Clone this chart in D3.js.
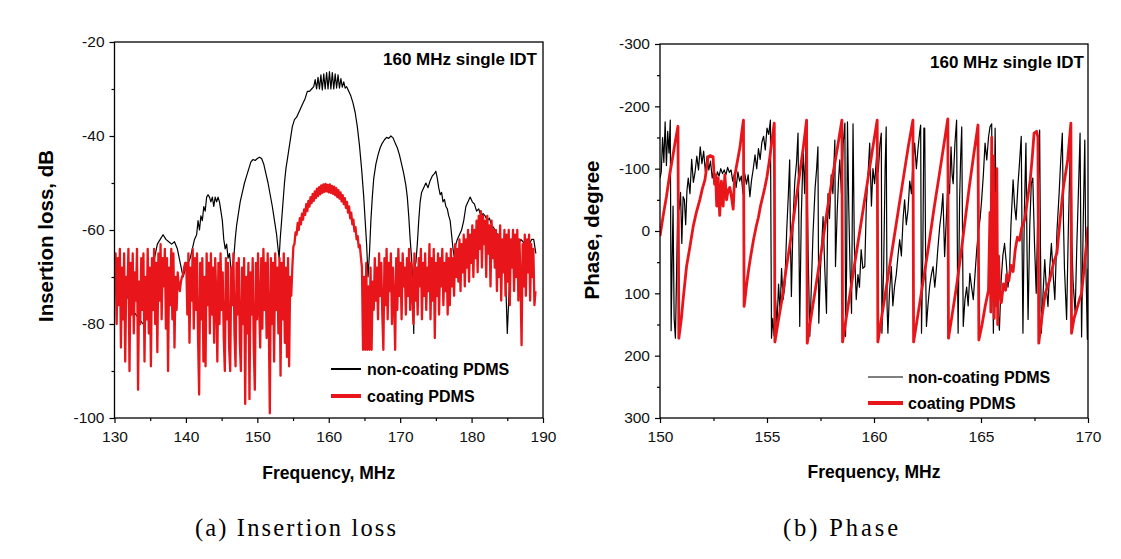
<!DOCTYPE html>
<html><head><meta charset="utf-8">
<script src="https://cdn.jsdelivr.net/npm/d3@7"></script>
<style>body{margin:0;background:#fff}svg{display:block}</style>
</head><body>
<svg id="c" width="1121" height="559"></svg>
<script>
// ---------------- DATA ----------------
// (a) insertion loss
const ilXTicks = [130,140,150,160,170,180,190];
const ilXMinor = [135,145,155,165,175,185];
const ilYTicks = [-20,-40,-60,-80,-100];
const ilYMinor = [-30,-50,-70,-90];
const ilBlack = [[130.0,-66],[130.4,-68],[130.8,-70],[131.2,-72],[131.6,-73],[132.0,-75],[132.5,-77],[133.0,-78],[133.5,-79],[134.0,-80],[134.4,-79],[134.8,-76],[135.2,-71],[135.6,-66],[136.0,-63],[136.4,-62],[136.8,-61],[137.2,-62],[137.6,-62.5],[138.0,-63],[138.4,-62.5],[138.8,-64],[139.2,-67],[139.6,-70],[140.0,-68],[140.3,-67],[140.6,-66],[140.9,-64],[141.2,-62],[141.5,-61],[141.7,-58],[141.9,-60],[142.1,-57],[142.3,-58],[142.5,-55],[142.7,-56],[142.9,-53],[143.1,-52.5],[143.3,-53],[143.5,-54],[143.7,-53],[143.9,-55],[144.1,-53],[144.3,-54],[144.5,-53],[144.7,-54],[144.9,-56],[145.1,-58],[145.3,-62],[145.5,-64],[145.7,-63],[145.9,-66],[146.1,-65],[146.3,-68],[146.5,-69],[146.7,-66],[146.9,-62],[147.1,-59],[147.3,-57],[147.6,-54],[147.9,-52],[148.2,-50],[148.5,-48.5],[148.8,-47],[149.1,-45.5],[149.4,-45],[149.7,-45.2],[150.0,-44.8],[150.3,-44.5],[150.6,-44.8],[150.9,-46],[151.2,-48],[151.5,-50],[151.8,-52.5],[152.1,-55],[152.4,-58],[152.7,-61],[152.9,-64],[153.05,-66],[153.2,-62],[153.4,-58],[153.6,-54],[153.8,-50],[154.0,-47],[154.3,-44],[154.6,-41],[154.9,-38],[155.2,-36.5],[155.5,-36],[155.8,-35],[156.1,-34],[156.4,-33],[156.7,-32],[157.0,-30.5],[157.3,-30.5],[157.6,-30],[157.9,-29.5],[158.1,-28],[158.3,-30],[158.5,-27.5],[158.7,-30],[158.9,-27],[159.1,-30.2],[159.3,-26.8],[159.5,-30],[159.7,-26.5],[159.9,-30],[160.1,-26.3],[160.3,-30],[160.5,-26.5],[160.7,-30],[160.9,-26.8],[161.1,-29.8],[161.3,-27],[161.5,-29.8],[161.7,-27.8],[161.9,-29.6],[162.1,-28.5],[162.3,-29.8],[162.5,-29.5],[162.8,-30.5],[163.1,-31.5],[163.4,-33],[163.7,-35],[164.0,-38],[164.3,-42],[164.6,-47],[164.9,-53],[165.1,-58],[165.3,-63],[165.5,-70],[165.7,-65],[165.9,-58],[166.1,-53],[166.3,-49],[166.6,-46],[166.9,-44],[167.2,-42.5],[167.5,-41.5],[167.8,-40.8],[168.1,-40.3],[168.4,-40.5],[168.7,-40],[169.0,-40.4],[169.3,-41.5],[169.6,-42.5],[169.9,-44],[170.2,-46],[170.5,-48],[170.8,-50.5],[171.0,-53],[171.2,-57],[171.4,-62],[171.6,-66],[171.8,-72],[171.9,-82],[172.0,-68],[172.2,-67],[172.4,-63],[172.6,-58],[172.8,-54],[173.0,-52],[173.3,-51],[173.6,-50],[173.9,-51],[174.2,-49.5],[174.5,-48.5],[174.8,-48],[175.0,-47.5],[175.2,-49],[175.4,-51],[175.6,-52.5],[175.8,-52],[176.0,-54],[176.2,-53.5],[176.4,-55],[176.6,-55.5],[176.8,-57],[177.0,-58],[177.2,-61],[177.4,-64],[177.6,-66],[177.8,-63],[178.0,-62],[178.3,-61],[178.6,-60],[178.9,-58],[179.2,-55],[179.5,-54],[179.8,-53],[180.1,-54],[180.4,-54.5],[180.7,-56],[181.0,-55.5],[181.3,-57],[181.6,-56.5],[181.9,-57],[182.2,-58],[182.5,-57.5],[182.8,-59],[183.1,-59.5],[183.4,-60.5],[183.7,-61],[184.0,-63],[184.3,-64],[184.6,-66],[184.8,-72],[185.0,-82],[185.2,-75],[185.4,-68],[185.7,-66],[186.0,-65],[186.3,-64],[186.6,-63],[186.9,-62],[187.2,-62.5],[187.5,-63],[187.8,-64],[188.1,-63],[188.4,-62],[188.7,-62],[189.0,-65]];
// coating PDMS, sampled every 0.15 MHz, in segments
const ilRedStep = 0.15;
const ilRedA0 = 130.00, ilRedA = [-72,-65,-80,-66,-76,-64,-85,-68,-79,-65,-88,-70,-74,-64,-90,-67,-78,-65,-82,-69,-75,-64,-94,-71,-80,-66,-77,-65,-88,-70,-79,-64,-82,-68,-89,-66,-77,-64,-80,-67,-86,-65,-75,-63,-79,-66,-72,-64,-81,-66,-90,-68,-76,-64,-79,-65,-85,-70,-77,-69];
const ilRedB0 = 139.00, ilRedB = [-72,-73,-71,-70,-69.5,-68,-67];
const ilRedC0 = 140.05, ilRedC = [-67,-78,-65,-84,-68,-75,-64,-81,-66,-77,-65,-83,-95,-67,-79,-66,-88,-70,-89,-65,-76,-67,-82,-65,-78,-68,-84,-66,-74,-88,-67,-80,-65,-77,-69,-83,-90,-66,-79,-67,-85,-90,-68,-76,-65,-82,-89,-67,-78,-66,-84,-90,-68,-80,-66,-97,-70,-82,-67,-96,-69,-78,-66,-85,-94,-67,-79,-65,-76,-85,-66,-81,-64,-77,-67,-83,-65,-79,-99,-66,-80,-67,-88,-65,-77,-68,-82,-66,-91,-67,-79,-65,-84,-68,-87,-66,-89,-70,-74];
const ilRedD0 = 154.90, ilRedD = [-68,-63.5,-63,-60.5,-61,-58.5,-60,-57.5,-58.8,-56.5,-57.8,-55.6,-56.8,-54.5,-56,-53.8,-55,-53,-54.3,-52.3,-53.8,-51.8,-53.2,-51.2,-52.8,-50.9,-52.4,-50.5,-52.1,-50.3,-51.9,-50.2,-51.8,-50.4,-52,-50.3,-52.1,-50.6,-52.3,-50.8,-52.6,-51.1,-53,-51.5,-53.3,-52,-53.9,-52.6,-54.5,-53.2,-55.3,-54,-56.3,-55,-57.5,-56.3,-58.8,-57.8,-60.3,-59.4,-62,-61.3,-63.7,-63.2,-65.8,-68];
const ilRedE0 = 164.80, ilRedE = [-85.5,-70,-85.5,-67,-85.5,-72,-85.5,-68,-85.5,-71,-77];
const ilRedF0 = 166.45, ilRedF = [-66,-75,-68,-79,-65,-74,-67,-78,-85.5,-66,-76,-64,-79,-67,-73,-65,-80,-68,-75,-85.5,-66,-77,-64,-74,-67,-79,-65,-72,-68,-78,-66,-74,-64,-77,-67,-73,-80,-65,-75,-68,-78,-66,-72,-64,-79,-67,-74,-65,-77,-68,-73,-63,-79,-66,-75,-64,-83,-67,-74,-65,-78,-66,-72,-64,-76,-67,-73,-65,-78,-66,-76,-64,-72,-66,-74,-63,-70];
const ilRedG0 = 178.00, ilRedG = [-64,-71,-62,-73,-63,-69,-61,-72,-62,-68,-60,-71,-61,-67,-59,-70,-60,-66,-58,-69,-57,-64,-56,-68,-57,-63,-58,-70,-57,-65,-59,-72,-58,-66,-60];
const ilRedH0 = 183.25, ilRedH = [-68,-60,-73,-61,-70,-59,-75,-62,-69,-60,-74,-61,-71,-60,-76,-62,-68,-60,-73,-61,-70,-60,-75,-62,-71,-84.5,-63,-72,-61,-74,-62,-69,-61,-75,-63,-70,-64,-76,-73];

// (b) phase
const phXTicks = [150,155,160,165,170];
const phXMinor = [152.5,157.5,162.5,167.5];
const phYTicks = [-300,-200,-100,0,100,200,300];
const phYMinor = [-250,-150,-50,50,150,250];
const phRed = [[150.00,8],[150.15,-25],[150.30,-55],[150.45,-90],[150.60,-120],[150.72,-145],[150.84,-168],[150.88,172],[151.00,140],[151.08,110],[151.24,57],[151.40,25],[151.55,-7],[151.70,-30],[151.86,-50],[151.98,-68],[152.10,-82],[152.25,-119],[152.35,-121],[152.48,-119],[152.55,-75],[152.60,-90],[152.65,-40],[152.72,-85],[152.79,-25],[152.87,-80],[152.95,-40],[153.03,-90],[153.11,-50],[153.18,-65],[153.26,-70],[153.34,-55],[153.42,-35],[153.49,-88],[153.57,-103],[153.66,-120],[153.74,-135],[153.82,-158],[153.90,-178],[153.93,121],[153.97,110],[154.05,85],[154.15,60],[154.25,38],[154.37,14],[154.50,-8],[154.60,-22],[154.69,-39],[154.80,-55],[154.90,-70],[155.00,-87],[155.12,-115],[155.23,-146],[155.34,-173],[155.37,178],[155.50,150],[155.70,110],[155.90,60],[156.10,15],[156.30,-35],[156.50,-85],[156.70,-135],[156.85,-178],[156.88,180],[157.05,140],[157.30,85],[157.55,30],[157.80,-30],[158.05,-85],[158.30,-135],[158.50,-178],[158.53,178],[158.70,140],[158.95,85],[159.20,30],[159.45,-25],[159.70,-80],[159.95,-135],[160.15,-178],[160.18,178],[160.35,140],[160.60,85],[160.85,30],[161.10,-25],[161.35,-80],[161.60,-135],[161.82,-178],[161.85,178],[162.05,135],[162.30,80],[162.55,25],[162.80,-35],[163.05,-90],[163.25,-135],[163.45,-180],[163.48,172],[163.65,135],[163.85,90],[164.05,40],[164.25,-15],[164.45,-70],[164.65,-120],[164.86,-170],[164.90,175],[165.05,150],[165.20,120],[165.35,95],[165.42,-30],[165.46,130],[165.50,-150],[165.54,110],[165.58,-120],[165.62,140],[165.66,-60],[165.70,120],[165.74,-100],[165.78,150],[165.82,40],[165.87,95],[165.95,115],[166.05,85],[166.15,95],[166.20,70],[166.30,80],[166.40,55],[166.50,65],[166.60,30],[166.70,10],[166.80,15],[166.90,-5],[167.04,-18],[167.15,-45],[167.30,-82],[167.40,-120],[167.48,-157],[167.60,-160],[167.66,-150],[167.70,180],[167.80,150],[168.00,100],[168.20,80],[168.40,50],[168.55,35],[168.70,-20],[168.85,-70],[169.05,-114],[169.20,-173],[169.23,164],[169.35,140],[169.47,126],[169.60,110],[169.70,100],[169.85,50],[170.00,-7]];
const phBlack = [[150.00,-85],[150.06,-95],[150.12,-150],[150.18,-110],[150.24,-175],[150.30,-105],[150.36,-160],[150.42,-125],[150.48,-178],[150.52,160],[150.57,40],[150.61,-40],[150.66,140],[150.72,172],[150.78,60],[150.84,-60],[150.90,-35],[150.96,-62],[151.02,20],[151.08,-55],[151.14,-50],[151.20,-10],[151.26,-65],[151.32,-85],[151.40,-60],[151.48,-115],[151.56,-78],[151.64,-95],[151.72,-120],[151.80,-98],[151.88,-135],[151.96,-108],[152.04,-128],[152.12,-95],[152.20,-120],[152.28,-98],[152.36,-112],[152.44,-85],[152.52,-100],[152.60,-78],[152.68,-95],[152.76,-88],[152.84,-100],[152.92,-92],[153.00,-98],[153.08,-90],[153.16,-102],[153.24,-94],[153.32,-98],[153.40,-80],[153.48,-92],[153.56,-70],[153.64,-95],[153.72,-80],[153.80,-88],[153.88,-60],[153.96,-92],[154.04,-75],[154.12,-90],[154.20,-55],[154.28,-82],[154.36,-100],[154.44,-122],[154.52,-100],[154.60,-132],[154.68,-115],[154.76,-142],[154.84,-152],[154.92,-130],[155.00,-165],[155.08,-155],[155.16,-178],[155.21,172],[155.27,140],[155.33,168],[155.40,110],[155.47,150],[155.54,85],[155.61,130],[155.68,60],[155.75,110],[155.83,89],[155.92,0],[156.00,-60],[156.06,-114],[156.10,20],[156.14,105],[156.22,-20],[156.30,-80],[156.38,-110],[156.45,-157],[156.50,40],[156.53,153],[156.60,-20],[156.69,-130],[156.76,-60],[156.84,-166],[156.92,30],[157.00,169],[157.08,80],[157.15,4],[157.25,-70],[157.32,-100],[157.38,-135],[157.42,148],[157.50,60],[157.56,20],[157.62,-23],[157.70,60],[157.78,132],[157.85,-60],[157.92,-20],[158.00,-90],[158.08,-60],[158.17,-146],[158.20,57],[158.28,-30],[158.34,-80],[158.40,-114],[158.48,-60],[158.56,-140],[158.64,-173],[158.67,169],[158.72,60],[158.76,-175],[158.82,-40],[158.88,60],[158.95,132],[159.02,-172],[159.08,20],[159.17,110],[159.25,70],[159.32,90],[159.40,30],[159.48,60],[159.57,57],[159.64,-40],[159.72,-90],[159.80,-141],[159.88,-40],[159.95,-100],[160.03,-76],[160.12,-120],[160.20,-95],[160.28,-140],[160.34,-157],[160.37,164],[160.45,60],[160.52,-100],[160.57,-167],[160.61,120],[160.65,164],[160.72,100],[160.81,57],[160.88,120],[160.96,89],[161.04,70],[161.12,40],[161.20,14],[161.28,40],[161.36,-20],[161.43,-50],[161.51,-10],[161.59,-34],[161.67,-80],[161.75,-60],[161.82,-110],[161.90,-141],[161.98,-100],[162.05,-130],[162.13,-157],[162.18,-170],[162.22,164],[162.28,40],[162.33,-165],[162.37,-165],[162.42,80],[162.45,153],[162.52,120],[162.60,89],[162.68,70],[162.76,57],[162.84,90],[162.90,68],[162.98,30],[163.07,-7],[163.15,-30],[163.22,-60],[163.30,41],[163.38,-20],[163.46,-80],[163.53,-60],[163.60,-135],[163.65,-90],[163.70,-76],[163.78,-140],[163.86,-178],[163.90,60],[163.93,164],[164.00,-50],[164.05,-120],[164.10,-167],[164.14,20],[164.17,153],[164.25,110],[164.33,90],[164.40,120],[164.48,68],[164.56,90],[164.64,110],[164.72,70],[164.80,30],[164.88,0],[164.96,-20],[165.03,-50],[165.11,-90],[165.19,-141],[165.27,-114],[165.35,-150],[165.42,-167],[165.50,-172],[165.54,60],[165.58,164],[165.62,-20],[165.66,-165],[165.72,30],[165.78,120],[165.86,159],[165.94,80],[166.02,40],[166.10,20],[166.18,50],[166.26,90],[166.33,68],[166.40,-10],[166.50,-82],[166.57,-40],[166.64,-18],[166.72,-70],[166.80,-110],[166.88,-152],[166.92,20],[166.96,164],[167.02,-20],[167.10,-141],[167.15,30],[167.20,142],[167.28,-10],[167.35,-76],[167.42,-85],[167.50,20],[167.58,100],[167.66,-40],[167.74,-162],[167.78,30],[167.82,164],[167.90,100],[167.98,46],[168.05,90],[168.13,121],[168.21,60],[168.29,20],[168.37,70],[168.45,110],[168.55,0],[168.65,-60],[168.72,-110],[168.80,-157],[168.85,-20],[168.90,60],[169.00,142],[169.08,0],[169.14,-90],[169.20,-167],[169.25,20],[169.30,80],[169.40,132],[169.48,20],[169.55,-60],[169.63,-157],[169.67,40],[169.70,170],[169.78,-20],[169.85,-146],[169.90,50],[169.97,174],[170.00,60]];

const legendLabels = ["non-coating PDMS", "coating PDMS"];
const noteText = "160 MHz single IDT";
const captions = ["(a) Insertion loss", "(b) Phase"];

// ---------------- DRAW ----------------
const RED = "#e8161b";
const SANS = "'Liberation Sans', Arial, sans-serif";
const svg = d3.select("#c");

function seg(start, vals) { return vals.map((v, i) => [start + i * ilRedStep, v]); }
const ilRed = [].concat(seg(ilRedA0, ilRedA), seg(ilRedB0, ilRedB), seg(ilRedC0, ilRedC),
  seg(ilRedD0, ilRedD), seg(ilRedE0, ilRedE), seg(ilRedF0, ilRedF), seg(ilRedG0, ilRedG), seg(ilRedH0, ilRedH));

function panel(o) {
  const g = svg.append("g");
  const x = d3.scaleLinear().domain(o.xd).range([o.x0, o.x1]);
  const y = d3.scaleLinear().domain(o.yd).range([o.y1, o.y0]);
  const id = "clip" + o.id;
  svg.append("defs").append("clipPath").attr("id", id).append("rect")
    .attr("x", o.x0).attr("y", o.y0).attr("width", o.x1 - o.x0).attr("height", o.y1 - o.y0);
  const line = d3.line().x(d => x(d[0])).y(d => y(d[1]));
  const pg = g.append("g").attr("clip-path", `url(#${id})`);
  pg.append("path").datum(o.black).attr("d", line).attr("fill", "none")
    .attr("stroke", "#000").attr("stroke-width", o.bw).attr("stroke-linejoin", "round");
  pg.append("path").datum(o.red).attr("d", line).attr("fill", "none")
    .attr("stroke", RED).attr("stroke-width", o.rw).attr("stroke-linejoin", "round");

  const fmt = d => String(d);
  const style = s => {
    s.select(".domain").remove();
    s.selectAll("line").attr("stroke", "#000").attr("stroke-width", 1.2);
    s.selectAll("text").attr("font-family", SANS).attr("font-size", o.tfs).attr("fill", "#111");
  };
  g.append("g").attr("transform", `translate(0,${o.y1})`)
    .call(d3.axisBottom(x).tickValues(o.xt).tickFormat(fmt).tickSize(5).tickPadding(8)).call(style);
  g.append("g").attr("transform", `translate(0,${o.y1})`)
    .call(d3.axisBottom(x).tickValues(o.xm).tickFormat("").tickSize(3)).call(style);
  g.append("g").attr("transform", `translate(${o.x0},0)`)
    .call(d3.axisLeft(y).tickValues(o.yt).tickFormat(fmt).tickSize(5).tickPadding(5)).call(style);
  g.append("g").attr("transform", `translate(${o.x0},0)`)
    .call(d3.axisLeft(y).tickValues(o.ym).tickFormat("").tickSize(3)).call(style);
  g.append("rect").attr("x", o.x0).attr("y", o.y0).attr("width", o.x1 - o.x0).attr("height", o.y1 - o.y0)
    .attr("fill", "none").attr("stroke", "#000").attr("stroke-width", 1.3);

  // axis titles
  g.append("text").attr("x", (o.x0 + o.x1) / 2).attr("y", o.xlY).attr("text-anchor", "middle")
    .attr("font-family", SANS).attr("font-weight", "bold").attr("font-size", 17.5).text(o.xlab);
  g.append("text").attr("transform", `translate(${o.ylX},${o.ylY}) rotate(-90)`).attr("text-anchor", "middle")
    .attr("font-family", SANS).attr("font-weight", "bold").attr("font-size", 20.5).text(o.ylab);
  // note
  g.append("text").attr("x", o.noteX).attr("y", o.noteY).attr("text-anchor", "end")
    .attr("font-family", SANS).attr("font-weight", "bold").attr("font-size", 17).text(noteText);
  // legend
  const lg = g.append("g");
  [[o.bl, "#000"], [4, RED]].forEach((s, i) => {
    const yy = o.legY[i];
    lg.append("line").attr("x1", o.legX1).attr("x2", o.legX2).attr("y1", yy).attr("y2", yy)
      .attr("stroke", s[1]).attr("stroke-width", s[0]);
    lg.append("text").attr("x", o.legTX).attr("y", yy + 6).attr("font-family", SANS)
      .attr("font-weight", "bold").attr("font-size", 16).text(legendLabels[i]);
  });
  // caption
  svg.append("text").attr("x", o.capX).attr("y", 536).attr("font-family", "'Liberation Serif', serif")
    .attr("font-size", 24.5).attr("textLength", o.capW).attr("lengthAdjust", "spacing").text(o.cap);
}

panel({id: "a", xd: [130, 190], yd: [-100, -20], x0: 114.5, x1: 543, y0: 42, y1: 418,
  xt: ilXTicks, xm: ilXMinor, yt: ilYTicks, ym: ilYMinor, black: ilBlack, red: ilRed, bw: 1.2, rw: 2.3,
  tfs: 15.5, xlab: "Frequency, MHz", xlY: 479, ylab: "Insertion loss, dB", ylX: 53, ylY: 236,
  noteX: 537, noteY: 65, bl: 2, legX1: 331, legX2: 361, legTX: 367, legY: [369, 396],
  cap: captions[0], capX: 195, capW: 201});

panel({id: "b", xd: [150, 170], yd: [300, -300], x0: 660, x1: 1088, y0: 44, y1: 418,
  xt: phXTicks, xm: phXMinor, yt: phYTicks, ym: phYMinor, black: phBlack, red: phRed, bw: 1.2, rw: 2.8,
  tfs: 15.5, xlab: "Frequency, MHz", xlY: 478, ylab: "Phase, degree", ylX: 599, ylY: 230,
  noteX: 1084, noteY: 68, bl: 1.2, legX1: 868, legX2: 903, legTX: 908, legY: [377, 403],
  cap: captions[1], capX: 783, capW: 115});
</script>
</body></html>
